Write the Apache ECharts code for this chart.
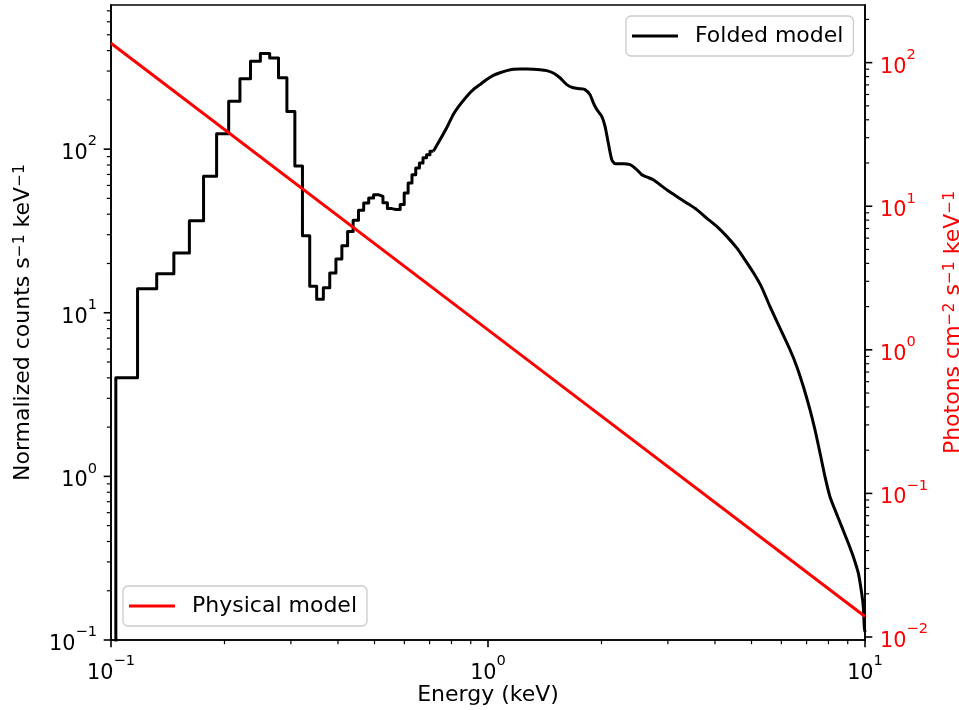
<!DOCTYPE html>
<html><head><meta charset="utf-8">
<script src="https://cdn.jsdelivr.net/npm/echarts/dist/echarts.min.js"></script>
<style>html,body{margin:0;padding:0;background:#fff}#c{width:959px;height:710px}</style>
</head><body><div id="c"></div>
<script>
// ---- Folded model: low-energy channels (bin edges in keV, values in counts/s/keV)
const stepEdges = [0.1030, 0.1176, 0.1322, 0.1468, 0.1614, 0.1760, 0.1906, 0.2052, 0.2198, 0.2344,
  0.2490, 0.2636, 0.2782, 0.2928, 0.3074, 0.3220, 0.3366, 0.3512, 0.3658, 0.3804, 0.3950, 0.4096,
  0.4242, 0.4388, 0.4534, 0.4680, 0.4826, 0.4972, 0.5118, 0.5264, 0.5410, 0.5556, 0.5702, 0.5848,
  0.5994, 0.6140, 0.6286, 0.6432, 0.6578, 0.6724, 0.6870, 0.7016, 0.7162];
const stepValues = [4.0, 14.0, 17.3, 23.2, 36.5, 68.2, 124, 196, 269, 344, 384, 361, 273, 170, 78.9,
  29.6, 14.5, 12.1, 14.2, 17.5, 21.3, 25.7, 31.4, 36.7, 42.3, 46.9, 50.3, 52.7, 51.4, 47.1, 43.3,
  42.8, 42.7, 45.8, 54.0, 62.1, 69.8, 76.7, 82.3, 88.7, 92.5, 97.0];
const stepFloor = 0.01; // the curve drops below the axis at the first edge
// ---- Folded model: higher energies (fine channels, drawn as a continuous curve)
const smoothEnergy = [0.7162, 0.746, 0.777, 0.809, 0.843, 0.878, 0.914, 0.952, 0.992, 1.033, 1.076,
  1.121, 1.167, 1.216, 1.267, 1.319, 1.374, 1.431, 1.490, 1.552, 1.618, 1.684, 1.754, 1.808, 1.865,
  1.903, 1.943, 2.002, 2.043, 2.085, 2.129, 2.173, 2.286, 2.381, 2.480, 2.557, 2.636, 2.745, 2.859,
  2.979, 3.167, 3.365, 3.578, 3.803, 4.044, 4.298, 4.569, 4.756, 5.055, 5.321, 5.598, 5.950, 6.326,
  6.590, 6.862, 7.148, 7.370, 7.598, 7.832, 8.074, 8.325, 8.675, 9.032, 9.311, 9.601, 9.800, 9.896,
  9.957, 10.0];
const smoothValues = [97.0, 114, 135, 163, 187, 210, 231, 248, 266, 282, 293, 302, 308, 309, 309, 308,
  306, 302, 292, 273, 248, 237, 234, 231, 215, 192, 175, 159, 138, 109, 86.3, 81.5, 81.5, 80.3, 75.0,
  69.8, 67.6, 65.0, 60.6, 56.5, 51.4, 46.9, 42.7, 37.9, 33.7, 29.3, 24.9, 21.8, 17.6, 14.3, 10.9,
  8.05, 5.94, 4.70, 3.54, 2.55, 1.92, 1.39, 0.997, 0.751, 0.624, 0.493, 0.390, 0.323, 0.256, 0.193,
  0.160, 0.120, 0.112];
// ---- Physical model (photons/cm^2/s/keV)
const physEnergy = [0.1, 1, 10];
const physValues = [136.5, 1.376, 0.0139];
// ---- axes
const xRange = [0.1, 10];
const leftRange = [0.1, 760];
const rightRange = [0.00953, 252];
const xMajorTicks = [0.1, 1, 10];
const xMinorTicks = [0.2, 0.3, 0.4, 0.5, 0.6, 0.7, 0.8, 0.9, 2, 3, 4, 5, 6, 7, 8, 9];
const leftMajorTicks = [0.1, 1, 10, 100];
const leftMinorTicks = [0.2, 0.3, 0.4, 0.5, 0.6, 0.7, 0.8, 0.9, 2, 3, 4, 5, 6, 7, 8, 9,
  20, 30, 40, 50, 60, 70, 80, 90, 200, 300, 400, 500, 600, 700];
const rightMajorTicks = [0.01, 0.1, 1, 10, 100];
const rightMinorTicks = [0.02, 0.03, 0.04, 0.05, 0.06, 0.07, 0.08, 0.09, 0.2, 0.3, 0.4, 0.5, 0.6,
  0.7, 0.8, 0.9, 2, 3, 4, 5, 6, 7, 8, 9, 20, 30, 40, 50, 60, 70, 80, 90, 200];

const FONT = 'DejaVu Sans';
const FS = 20.8;     // tick labels
const FS_NAME = 22;  // axis titles and legend
const SUP = 14.6;
const SUP_NAME = 15.5;
const RED = '#ff0000';

const stepData = [[stepEdges[0], stepFloor]].concat(stepValues.map((v, i) => [stepEdges[i + 1], v]));
const smoothData = smoothEnergy.map((e, i) => [e, smoothValues[i]]);
const physData = physEnergy.map((e, i) => [e, physValues[i]]);

function pow10Label(v) {
  const e = Math.log10(v);
  const r = Math.round(e);
  if (Math.abs(e - r) > 1e-6) return '';
  return '{b|10}{s|' + (r < 0 ? '\u2212' + (-r) : r) + '}';
}
function richFor(color) {
  return {
    b: { fontFamily: FONT, fontSize: FS, color: color, verticalAlign: 'bottom', lineHeight: 30 },
    s: { fontFamily: FONT, fontSize: SUP, color: color, verticalAlign: 'top', lineHeight: 14 }
  };
}
function nameRich(color) {
  return { s: { fontFamily: FONT, fontSize: SUP_NAME, color: color, verticalAlign: 'top', lineHeight: 15 } };
}
function tickData(major, minor, side) {
  const mk = (v, m) => side === 'x' ? [v, 1, m] : [1, v, m];
  return major.map(v => mk(v, 1)).concat(minor.map(v => mk(v, 0)));
}
function tickRender(side) {
  return function (params, api) {
    const cs = params.coordSys;
    const major = api.value(2) === 1;
    const len = major ? 7.3 : 4.2;
    const lw = major ? 1.6 : 1.2;
    let shape;
    if (side === 'x') {
      const x = api.coord([api.value(0), 1])[0];
      const y = cs.y + cs.height;
      shape = { x1: x, y1: y, x2: x, y2: y + len };
    } else if (side === 'left') {
      const y = api.coord([1, api.value(1)])[1];
      shape = { x1: cs.x - len, y1: y, x2: cs.x, y2: y };
    } else {
      const y = api.coord([1, api.value(1)])[1];
      const x = cs.x + cs.width;
      shape = { x1: x, y1: y, x2: x + len, y2: y };
    }
    return { type: 'line', shape: shape, style: { stroke: '#000', lineWidth: lw } };
  };
}
function tickSeries(side, yIdx, major, minor) {
  return {
    type: 'custom', xAxisIndex: 0, yAxisIndex: yIdx, silent: true, clip: false, z: 5,
    encode: { x: 0, y: 1 }, data: tickData(major, minor, side), renderItem: tickRender(side)
  };
}
const legendBase = {
  orient: 'vertical', icon: 'rect', itemWidth: 46, itemHeight: 3, padding: [9, 10, 9, 6],
  borderColor: '#cccccc', borderWidth: 1.3, borderRadius: 5, backgroundColor: 'rgba(255,255,255,0.8)',
  textStyle: { fontFamily: FONT, fontSize: FS_NAME, color: '#000', padding: [0, 0, 0, 12] },
  selectedMode: false, z: 10
};

const chart = echarts.init(document.getElementById('c'), null, { renderer: 'canvas' });
chart.setOption({
  animation: false,
  backgroundColor: '#fff',
  grid: { left: 111, right: 94, top: 5, bottom: 70, outerBoundsMode: 'none', containLabel: false,
    show: true, borderColor: '#000', borderWidth: 1.6, backgroundColor: 'transparent' },
  legend: [
    Object.assign({}, legendBase, { data: ['Folded model'], left: 626, top: 16 }),
    Object.assign({}, legendBase, { data: ['Physical model'], left: 123, top: 586 })
  ],
  xAxis: {
    type: 'log', logBase: 10, min: xRange[0], max: xRange[1],
    name: 'Energy (keV)', nameLocation: 'middle', nameGap: 44, nameMoveOverlap: false,
    nameTextStyle: { fontFamily: FONT, fontSize: FS_NAME, color: '#000' },
    axisLine: { show: true, lineStyle: { color: '#000', width: 1.6 } },
    axisTick: { show: false }, splitLine: { show: false }, minorTick: { show: false },
    axisLabel: { formatter: pow10Label, margin: 14, color: '#000', rich: richFor('#000') }
  },
  yAxis: [
    {
      type: 'log', logBase: 10, min: leftRange[0], max: leftRange[1], position: 'left',
      name: 'Normalized counts s{s|\u22121} keV{s|\u22121}', nameLocation: 'middle', nameGap: 77,
      nameTextStyle: { fontFamily: FONT, fontSize: FS_NAME, color: '#000', rich: nameRich('#000') },
      axisLine: { show: true, lineStyle: { color: '#000', width: 1.6 } },
      axisTick: { show: false }, splitLine: { show: false }, minorTick: { show: false },
      axisLabel: { formatter: pow10Label, margin: 14, color: '#000', rich: richFor('#000') }
    },
    {
      type: 'log', logBase: 10, min: rightRange[0], max: rightRange[1], position: 'right',
      name: 'Photons cm{s|\u22122} s{s|\u22121} keV{s|\u22121}', nameLocation: 'middle', nameGap: 77,
      nameTextStyle: { fontFamily: FONT, fontSize: FS_NAME, color: RED, rich: nameRich(RED) },
      axisLine: { show: true, lineStyle: { color: '#000', width: 1.6 } },
      axisTick: { show: false }, splitLine: { show: false }, minorTick: { show: false },
      axisLabel: { formatter: pow10Label, margin: 15, color: RED, rich: richFor(RED) }
    }
  ],
  series: [
    {
      name: 'Folded model', type: 'line', xAxisIndex: 0, yAxisIndex: 0, data: stepData, step: 'start',
      symbol: 'none', lineStyle: { color: '#000', width: 3, join: 'round' }, itemStyle: { color: '#000' }, z: 3
    },
    {
      name: 'Folded model', type: 'line', xAxisIndex: 0, yAxisIndex: 0, data: smoothData, smooth: 0.2,
      symbol: 'none', lineStyle: { color: '#000', width: 3, join: 'round' }, itemStyle: { color: '#000' }, z: 3
    },
    {
      name: 'Physical model', type: 'line', xAxisIndex: 0, yAxisIndex: 1, data: physData,
      symbol: 'none', lineStyle: { color: RED, width: 3 }, itemStyle: { color: RED }, z: 4
    },
    tickSeries('x', 0, xMajorTicks, xMinorTicks),
    tickSeries('left', 0, leftMajorTicks, leftMinorTicks),
    tickSeries('right', 1, rightMajorTicks, rightMinorTicks)
  ]
});
</script>
</body></html>
